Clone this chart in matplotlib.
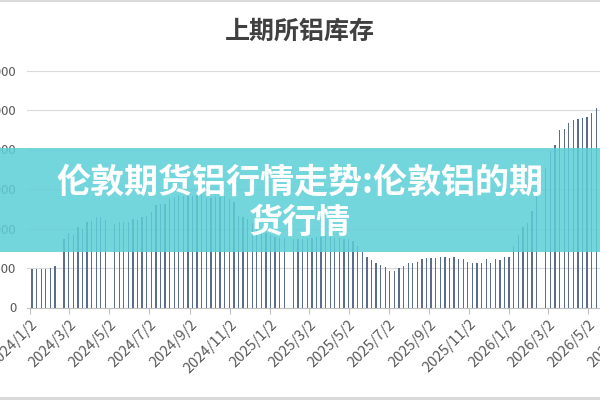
import numpy as np
import pandas as pd
import matplotlib
matplotlib.use("Agg")
import matplotlib.pyplot as plt
import matplotlib.dates as mdates
from matplotlib.patches import Rectangle

plt.rcParams['font.family'] = ['Noto Sans CJK SC', 'DejaVu Sans']

# weekly SHFE aluminium stock (tonnes), NaN = no report that week
start_date = "2024-01-05"
stock = [
    48200, 48900, 48900, 49200, 50100, 52000, np.nan, 86900, 94900, 92000,
    101800, 99200, 107600, 109800, 114500, 114500, 111000, np.nan, 106000, 107600,
    107600, 107600, 112300, 111000, 114800, 116100, 121200, 130100, 131300, 131300,
    137700, 140200, 142800, 141500, 142800, 141500, 142800, 142800, 139000, 139000,
    140200, 140200, 141500, 137700, 133000, 116100, 114500, 112300, 107200, 102500,
    98300, 94500, 92000, 89800, 88200, 88200, np.nan, 86900, 86900, 86900,
    88200, 88200, 89500, 89500, 90700, 89500, 88200, 88200, 86900, 86300,
    84800, 78000, 70800, 64100, 60300, 56900, 53900, 51000, 46700, 46700,
    49700, 52700, 56100, 56900, 58100, 61200, 62400, 62400, 62400, 63700,
    63700, 62400, 63700, 61200, 61200, 58100, 56900, 56900, 56100, 61200,
    56100, 61200, 60300, 63700, 63700, 78000, 92000, 101300, 107500, 122500,
    147800, np.nan, 177000, 197700, 206200, 225200, 226100, 233700, 237000, 238800,
    240100, 241400, 246400, 252800,
]
y_ticks = [0, 50000, 100000, 150000, 200000, 250000, 300000]
title = "上期所铝库存"
banner = "伦敦期货铝行情走势:伦敦铝的期\n货行情"

dates = pd.date_range(start_date, periods=len(stock), freq="7D")
df = pd.DataFrame({"date": dates, "stock": stock}).dropna()

fig = plt.figure(figsize=(6, 4), dpi=100)
fig.patch.set_facecolor("white")

# axes: x from 27.4px to 633px, y from 70.5px to 307.5px (top origin)
ax = fig.add_axes([27.4 / 600, 92.5 / 400, 605.6 / 600, 237 / 400])
ax.bar(df["date"], df["stock"], width=2.0, color="#5a6d8e", zorder=2)

ax.set_xlim(pd.Timestamp("2023-12-29"), pd.Timestamp("2026-07-10"))
ax.set_ylim(0, 300000)
ax.set_yticks(y_ticks)
ax.yaxis.set_major_formatter(matplotlib.ticker.FuncFormatter(lambda v, p: f"{int(v)}"))
ax.xaxis.set_major_locator(mdates.MonthLocator(bymonth=[1, 3, 5, 7, 9, 11], bymonthday=2))
ax.xaxis.set_major_formatter(
    matplotlib.ticker.FuncFormatter(lambda v, p: "{d.year}/{d.month}/{d.day}".format(d=mdates.num2date(v)))
)
ax.grid(axis="y", color="#d9d9d9", linewidth=0.8, zorder=0)
for s in ["top", "right", "left"]:
    ax.spines[s].set_visible(False)
ax.spines["bottom"].set_color("#bfbfbf")
ax.tick_params(axis="y", length=0, pad=8, labelsize=9.5, labelcolor="#595959")
ax.tick_params(axis="x", length=4, color="#bfbfbf", pad=3, labelsize=10.5, labelcolor="#595959")
for lab in ax.get_xticklabels():
    lab.set_rotation(45)
    lab.set_ha("right")
    lab.set_rotation_mode("anchor")

fig.text(0.5, 1 - 32 / 400, title, ha="center", va="center", fontsize=18,
         color="#404040", fontweight="bold")

# overlay banner
fig.patches.append(Rectangle((0, 1 - 252 / 400), 1, 104 / 400, transform=fig.transFigure,
                             facecolor="#5ccfd8", alpha=0.85, zorder=5, edgecolor="none"))
fig.text(0.5, 1 - 202 / 400, banner, ha="center", va="center", fontsize=24.5,
         color="white", fontweight="heavy", linespacing=1.2, zorder=6)

# thin grey frame lines at top and bottom
fig.patches.append(Rectangle((0, 1 - 2 / 400), 1, 2 / 400, transform=fig.transFigure,
                             facecolor="#d9d9d9", edgecolor="none", zorder=7))
fig.patches.append(Rectangle((0, 0), 1, 3 / 400, transform=fig.transFigure,
                             facecolor="#d9d9d9", edgecolor="none", zorder=7))

fig.savefig("out.png", dpi=100)
